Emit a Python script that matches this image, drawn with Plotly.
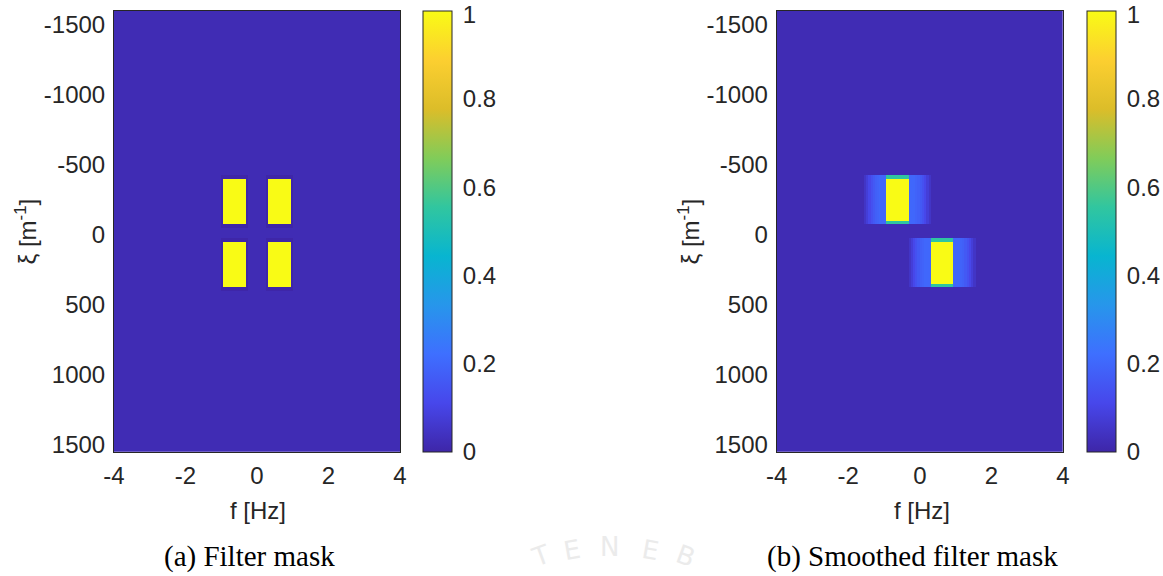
import numpy as np
import plotly.graph_objects as go

# ---- grids (cell centres) --------------------------------------------------
f_hz = np.arange(-4.0 + 0.03125, 4.0, 0.0625)        # frequency [Hz]
xi = np.arange(-1600 + 12.5, 1575, 25.0)             # wavenumber [1/m]

background_level = 0.02
ring_level = 0.0

# ---- (a) filter mask: pass-band blocks (f0, f1, xi0, xi1, level) -----------
mask_blocks = [
    (-0.93, -0.30, -400, -75, 1.0),
    (0.32, 0.95, -400, -75, 1.0),
    (-0.93, -0.30, 50, 375, 1.0),
    (0.32, 0.95, 50, 375, 1.0),
]

# ---- (b) smoothed mask: kept blocks, edge rows and side-lobe profile -------
smooth_blocks = [
    (-0.93, -0.30, -425, -75),
    (0.32, 0.95, 25, 375),
]
smooth_core = 1.0
smooth_edge = 0.55
lobe_profile = [0.2, 0.2, 0.2, 0.19, 0.18, 0.16, 0.14, 0.11, 0.08, 0.05]

# ---- axis ticks --------------------------------------------------------------
x_ticks = [-4, -2, 0, 2, 4]
x_labels = ["-4", "-2", "0", "2", "4"]
y_ticks = [-1500, -1000, -500, 0, 500, 1000, 1500]
y_labels = ["-1500", "-1000", "-500", "0", "500", "1000", "1500"]
# top label sits just under the bar's upper edge
cb_ticks = [0, 0.2, 0.4, 0.6, 0.8, 0.992]
cb_labels = ["0", "0.2", "0.4", "0.6", "0.8", "1"]

captions = ["(a) Filter mask", "(b) Smoothed filter mask"]

# parula colour map
parula = [
    [0 / 9, "rgb(62,38,168)"],
    [1 / 9, "rgb(71,71,235)"],
    [2 / 9, "rgb(62,111,255)"],
    [3 / 9, "rgb(39,150,235)"],
    [4 / 9, "rgb(8,181,208)"],
    [5 / 9, "rgb(49,198,159)"],
    [6 / 9, "rgb(129,204,89)"],
    [7 / 9, "rgb(220,189,41)"],
    [8 / 9, "rgb(252,207,48)"],
    [9 / 9, "rgb(249,251,21)"],
]


def span(values, lo, hi):
    return np.where((values >= lo) & (values <= hi))[0]


def filter_mask():
    z = np.full((xi.size, f_hz.size), background_level)
    for f0, f1, x0, x1, lvl in mask_blocks:
        cols = span(f_hz, f0, f1)
        rows = span(xi, x0, x1)
        # thin dark ring round each block
        r0, r1 = rows[0] - 1, rows[-1] + 1
        c0, c1 = cols[0] - 1, cols[-1] + 1
        z[r0:r1 + 1, c0:c1 + 1] = ring_level
        z[np.ix_(rows, cols)] = lvl
    return z


def smoothed_mask():
    z = np.full((xi.size, f_hz.size), background_level)
    for f0, f1, x0, x1 in smooth_blocks:
        cols = span(f_hz, f0, f1)
        rows = span(xi, x0, x1)
        for k, lvl in enumerate(lobe_profile):
            z[rows, cols[0] - 1 - k] = lvl
            z[rows, cols[-1] + 1 + k] = lvl
        z[np.ix_(rows, cols)] = smooth_core
        z[np.ix_([rows[0], rows[-1]], cols)] = smooth_edge
    return z


W, H = 1163, 576


def px(x):
    return x / W


def py(y):
    return 1 - y / H


tick_font = dict(family="Liberation Sans, Arial, sans-serif", size=24, color="#262626")

fig = go.Figure()

panels = [
    dict(z=filter_mask(), dom=(114, 400), cb=423, xa="x", ya="y", title_x=257.5, ylab_x=25.5,
         cap_x=249),
    dict(z=smoothed_mask(), dom=(776.7, 1063), cb=1087, xa="x2", ya="y2", title_x=921.5,
         ylab_x=688.5, cap_x=912.5),
]

plot_top, plot_bottom = 11, 451.7

for i, p in enumerate(panels):
    fig.add_trace(go.Heatmap(
        x=f_hz, y=xi, z=p["z"], zmin=0, zmax=1, zsmooth=False,
        colorscale=parula, xaxis=p["xa"], yaxis=p["ya"], hoverinfo="skip",
        colorbar=dict(
            x=px(p["cb"]), xanchor="left", xpad=0, ypad=0,
            y=py((plot_top + plot_bottom) / 2), yanchor="middle",
            thickness=29, lenmode="pixels", len=plot_bottom - plot_top,
            outlinewidth=1, outlinecolor="#262626",
            tickvals=cb_ticks, ticktext=cb_labels, ticks="outside", ticklen=6,
            tickcolor="rgba(0,0,0,0)", tickfont=tick_font, ticklabeloverflow="allow",
        ),
    ))
    suffix = "" if i == 0 else "2"
    fig.update_layout(**{
        "xaxis" + suffix: dict(
            domain=[px(p["dom"][0]), px(p["dom"][1])], range=[-4, 4],
            anchor="y" + suffix, tickvals=x_ticks, ticktext=x_labels, ticks="outside",
            ticklen=2, tickcolor="rgba(0,0,0,0)", tickfont=tick_font, showgrid=False,
            zeroline=False, showline=True, mirror=True, linecolor="#262626", linewidth=1,
            automargin=False,
        ),
        "yaxis" + suffix: dict(
            domain=[py(plot_bottom), py(plot_top)], range=[1550, -1600],
            anchor="x" + suffix, tickvals=y_ticks, ticktext=y_labels, ticks="outside",
            ticklen=3, tickcolor="rgba(0,0,0,0)", tickfont=tick_font, showgrid=False,
            zeroline=False, showline=True, mirror=True, linecolor="#262626", linewidth=1,
            automargin=False,
        ),
    })
    fig.add_annotation(x=px(p["title_x"]), y=py(510), xref="paper", yref="paper",
                       text="f [Hz]", showarrow=False, xanchor="center", yanchor="middle",
                       font=tick_font)
    fig.add_annotation(x=px(p["ylab_x"]), y=py(232), xref="paper", yref="paper",
                       text="ξ [m<sup>-1</sup>]", textangle=-90, showarrow=False,
                       xanchor="center", yanchor="middle", font=tick_font)
    fig.add_annotation(x=px(p["cap_x"]), y=py(556), xref="paper", yref="paper",
                       text=captions[i], showarrow=False, xanchor="center",
                       yanchor="middle",
                       font=dict(family="Liberation Serif, Times New Roman, serif",
                                 size=29, color="black"))

# faint seal lettering in the page background
seal_letters = ["T", "E", "N", "E", "B"]
seal_x = [540, 572, 610, 650, 686]
seal_y = [536, 532, 530, 532, 536]
seal_angle = [-20, -10, 0, 10, 20]
for ch, sx, sy, ang in zip(seal_letters, seal_x, seal_y, seal_angle):
    fig.add_annotation(x=px(sx), y=py(sy), xref="paper", yref="paper", text=ch,
                       showarrow=False, xanchor="center", yanchor="top", textangle=ang,
                       font=dict(family="DejaVu Sans, sans-serif", size=26, color="#ebebeb"))

fig.update_layout(
    width=W, height=H, margin=dict(l=0, r=0, t=0, b=0, autoexpand=False),
    paper_bgcolor="white", plot_bgcolor="white", showlegend=False,
)

fig.write_html("out.html")
